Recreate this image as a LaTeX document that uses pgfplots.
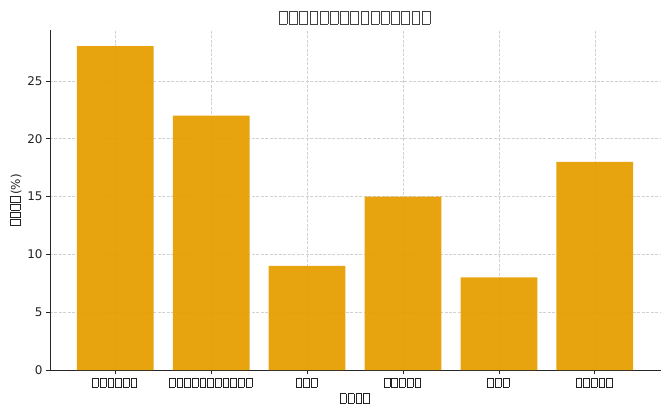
\documentclass[border=0pt]{standalone}
\usepackage{pgfplots}
\pgfplotsset{compat=1.18}
\usepackage{fontspec}
\setmainfont{DejaVu Sans}
\definecolor{barc}{HTML}{E59E00}
\definecolor{txt}{HTML}{222222}
\newcommand{\tofu}{{\fboxsep=0pt\fboxrule=0.55pt\fbox{\rule{0pt}{0.85em}\kern0.5em}}\kern0.13em}
\newcommand{\tf}[1]{\foreach \i in {1,...,#1}{\tofu}}
\begin{document}
\begin{tikzpicture}
\useasboundingbox (0bp,0bp) rectangle (670bp,415bp);
\begin{axis}[
  at={(50bp,45bp)}, anchor=south west,
  scale only axis, width=611bp, height=340bp,
  xmin=-0.68, xmax=5.69, ymin=0, ymax=29.4,
  axis lines*=left,
  axis line style={black!85, line width=0.8pt},
  xtick={0,1,2,3,4,5},
  xticklabels={\tf{6},\tf{11},\tf{3},\tf{5},\tf{3},\tf{5}},
  ytick={0,5,10,15,20,25},
  tick style={black!85, line width=0.7pt},
  major tick length=4bp,
  tick align=outside,
  grid=major,
  grid style={dash pattern=on 3pt off 1.5pt, gray!35, line width=0.5pt},
  ticklabel style={font=\fontsize{10.5}{12}\selectfont, text=txt},
  yticklabel style={font=\fontsize{12}{14}\selectfont},
  /pgf/number format/assume math mode=true,
  xlabel={\tf{4}}, ylabel={\tf{4}\fontsize{12}{14}\selectfont(\%)},
  label style={font=\fontsize{10.5}{12}\selectfont, text=txt},
  xlabel style={yshift=1bp},
  ylabel style={yshift=-1bp},
  title={\tf{15}},
  title style={font=\fontsize{14.5}{16}\selectfont, text=black!75, yshift=-4bp},
  ybar, bar width=0.8,
]
\addplot[fill=barc, draw=none, fill opacity=0.94] coordinates {(0,28) (1,22) (2,9) (3,15) (4,8) (5,18)};
\end{axis}
\end{tikzpicture}
\end{document}
